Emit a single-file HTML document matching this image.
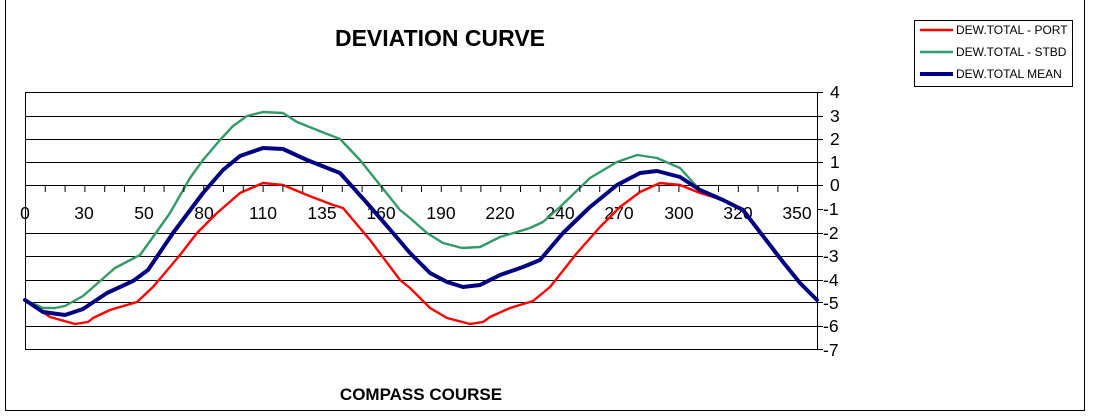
<!DOCTYPE html>
<html><head><meta charset="utf-8"><style>
html,body{margin:0;padding:0;background:#fff;}
svg{display:block;font-family:"Liberation Sans",Arial,sans-serif;}
</style></head><body>
<svg width="1094" height="418" viewBox="0 0 1094 418" xmlns="http://www.w3.org/2000/svg">
<rect x="0" y="0" width="1094" height="418" fill="#fff"/>
<rect x="5.5" y="-2" width="1079" height="412.5" fill="none" stroke="#000" stroke-width="1"/>
<text x="440" y="46" font-size="23" font-weight="bold" text-anchor="middle">DEVIATION CURVE</text>
<text x="421" y="400" font-size="17" font-weight="bold" text-anchor="middle">COMPASS COURSE</text>
<rect x="25.5" y="92.5" width="792" height="257" fill="none" stroke="#000" stroke-width="1"/>
<g stroke="#000" stroke-width="1">
<line x1="25" y1="116.5" x2="818" y2="116.5"/>
<line x1="25" y1="139.5" x2="818" y2="139.5"/>
<line x1="25" y1="162.5" x2="818" y2="162.5"/>
<line x1="25" y1="185.5" x2="818" y2="185.5"/>
<line x1="25" y1="233.5" x2="818" y2="233.5"/>
<line x1="25" y1="256.5" x2="818" y2="256.5"/>
<line x1="25" y1="280.5" x2="818" y2="280.5"/>
<line x1="25" y1="302.5" x2="818" y2="302.5"/>
<line x1="25" y1="326.5" x2="818" y2="326.5"/>
</g>
<g font-size="17.5" text-anchor="middle">
<text x="25" y="219">0</text><text x="84" y="219">30</text><text x="144" y="219">50</text>
<text x="204" y="219">80</text><text x="263" y="219">110</text><text x="322" y="219">135</text>
<text x="381" y="219">160</text><text x="441" y="219">190</text><text x="500" y="219">220</text>
<text x="560" y="219">240</text><text x="619" y="219">270</text><text x="679" y="219">300</text>
<text x="738" y="219">320</text><text x="797" y="219">350</text>
</g>
<g font-size="17.5">
<text x="830" y="98">4</text><text x="830" y="122">3</text><text x="830" y="145">2</text>
<text x="830" y="168">1</text><text x="830" y="191">0</text><text x="823" y="215">-1</text>
<text x="823" y="239">-2</text><text x="823" y="262">-3</text><text x="823" y="286">-4</text>
<text x="823" y="309">-5</text><text x="823" y="332">-6</text><text x="823" y="356">-7</text>
</g>
<g fill="none" stroke-linejoin="round" stroke-linecap="round">
<polyline stroke="#339966" stroke-width="2.4" points="25,300 43,308 55,308 65,306 83,296 107,275 115,268 140,255 153,237 170,213 190,178 203,160 220,140 233,126 247,116 263,112 283,113 297,122 317,130 340,139 360,160 380,185 400,210 410,218 427,233 443,243 462,248 480,247 500,237 517,232 530,228 543,222 560,207 590,178 617,162 637,155 657,158 680,168 700,190 723,200 743,210 763,237 783,263 800,283 817,300"/>
<polyline stroke="#ff0000" stroke-width="2.4" points="25,300 50,317 75,324 88,322 93,318 110,310 137,302 153,287 180,255 197,233 217,213 240,193 263,183 283,185 307,195 333,205 343,208 370,240 400,280 410,288 430,308 447,318 470,324 483,322 490,317 510,308 533,301 550,287 577,253 600,227 620,207 640,192 660,183 680,185 700,193 723,200 743,209 763,235 783,261 800,282 817,300"/>
<polyline stroke="#000080" stroke-width="4" points="25,300 43,312 65,315 83,309 107,293 133,281 148,270 173,233 203,193 223,170 240,156 263,148 283,149 307,160 340,173 367,203 393,233 410,253 430,273 447,282 463,287 480,285 500,275 523,267 540,260 563,233 590,207 617,185 640,173 657,171 680,177 700,190 723,200 743,210 763,236 783,262 800,283 817,300"/>
</g>
<rect x="914.5" y="20.5" width="158" height="66" fill="#fff" stroke="#000" stroke-width="1"/>
<line x1="920" y1="30" x2="953" y2="30" stroke="#ff0000" stroke-width="2.4"/>
<line x1="920" y1="52" x2="953" y2="52" stroke="#339966" stroke-width="2.4"/>
<line x1="920" y1="74" x2="953" y2="74" stroke="#000080" stroke-width="4"/>
<g font-size="12">
<text x="956" y="34">DEW.TOTAL - PORT</text>
<text x="956" y="56">DEW.TOTAL - STBD</text>
<text x="956" y="78">DEW.TOTAL MEAN</text>
</g>
<g stroke="#000" stroke-width="1">
<line x1="45.3" y1="185" x2="45.3" y2="192"/><line x1="65.1" y1="185" x2="65.1" y2="192"/><line x1="84.9" y1="185" x2="84.9" y2="192"/><line x1="104.7" y1="185" x2="104.7" y2="192"/><line x1="124.5" y1="185" x2="124.5" y2="192"/><line x1="144.3" y1="185" x2="144.3" y2="192"/><line x1="164.1" y1="185" x2="164.1" y2="192"/><line x1="183.9" y1="185" x2="183.9" y2="192"/><line x1="203.7" y1="185" x2="203.7" y2="192"/><line x1="223.5" y1="185" x2="223.5" y2="192"/><line x1="243.3" y1="185" x2="243.3" y2="192"/><line x1="263.1" y1="185" x2="263.1" y2="192"/><line x1="282.9" y1="185" x2="282.9" y2="192"/><line x1="302.7" y1="185" x2="302.7" y2="192"/><line x1="322.5" y1="185" x2="322.5" y2="192"/><line x1="342.3" y1="185" x2="342.3" y2="192"/><line x1="362.1" y1="185" x2="362.1" y2="192"/><line x1="381.9" y1="185" x2="381.9" y2="192"/><line x1="401.7" y1="185" x2="401.7" y2="192"/><line x1="421.5" y1="185" x2="421.5" y2="192"/><line x1="441.3" y1="185" x2="441.3" y2="192"/><line x1="461.1" y1="185" x2="461.1" y2="192"/><line x1="480.9" y1="185" x2="480.9" y2="192"/><line x1="500.7" y1="185" x2="500.7" y2="192"/><line x1="520.5" y1="185" x2="520.5" y2="192"/><line x1="540.3" y1="185" x2="540.3" y2="192"/><line x1="560.1" y1="185" x2="560.1" y2="192"/><line x1="579.9" y1="185" x2="579.9" y2="192"/><line x1="599.7" y1="185" x2="599.7" y2="192"/><line x1="619.5" y1="185" x2="619.5" y2="192"/><line x1="639.3" y1="185" x2="639.3" y2="192"/><line x1="659.1" y1="185" x2="659.1" y2="192"/><line x1="678.9" y1="185" x2="678.9" y2="192"/><line x1="698.7" y1="185" x2="698.7" y2="192"/><line x1="718.5" y1="185" x2="718.5" y2="192"/><line x1="738.3" y1="185" x2="738.3" y2="192"/><line x1="758.1" y1="185" x2="758.1" y2="192"/><line x1="777.9" y1="185" x2="777.9" y2="192"/><line x1="797.7" y1="185" x2="797.7" y2="192"/>
<line x1="818" y1="92.5" x2="823" y2="92.5"/><line x1="818" y1="116.5" x2="823" y2="116.5"/><line x1="818" y1="139.5" x2="823" y2="139.5"/><line x1="818" y1="162.5" x2="823" y2="162.5"/><line x1="818" y1="185.5" x2="823" y2="185.5"/><line x1="818" y1="209.5" x2="823" y2="209.5"/><line x1="818" y1="233.5" x2="823" y2="233.5"/><line x1="818" y1="256.5" x2="823" y2="256.5"/><line x1="818" y1="280.5" x2="823" y2="280.5"/><line x1="818" y1="302.5" x2="823" y2="302.5"/><line x1="818" y1="326.5" x2="823" y2="326.5"/><line x1="818" y1="349.5" x2="823" y2="349.5"/>
</g>
</svg>
</body></html>
